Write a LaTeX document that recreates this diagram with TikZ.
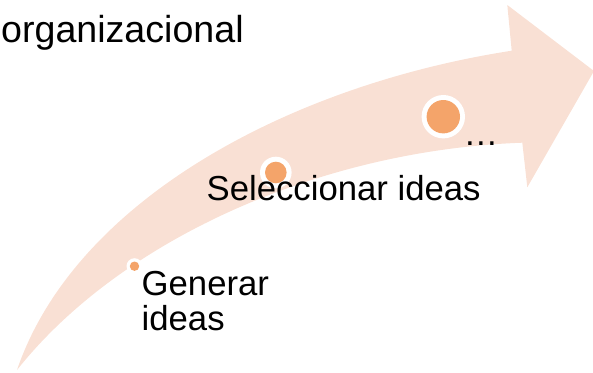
\documentclass[tikz,border=0pt]{standalone}
\usepackage{fontspec}
\setmainfont{Liberation Sans}
\definecolor{arrowfill}{HTML}{F9E0D4}
\definecolor{dotfill}{HTML}{F4A46A}
\begin{document}
\begin{tikzpicture}[x=1pt,y=-1pt,
  dotring/.style={circle,fill=white,inner sep=0pt,minimum size=#1},
  dotcore/.style={circle,fill=dotfill,inner sep=0pt,minimum size=#1},
  lbl/.style={anchor=base west,inner sep=0pt,font=\fontsize{34.7}{35}\selectfont,text=black}]
\useasboundingbox (0,0) rectangle (593,372);
% curved arrow
\fill[arrowfill] (17,370) .. controls (75,200) and (290,85) .. (511.7,50.7)
  -- (507.3,5) -- (594,71) -- (527.3,187.3) -- (522.3,142.7)
  .. controls (320,150) and (120,240) .. (17,370) -- cycle;
% markers
\node[dotring=16pt] (r1) at (134.5,266.2) {};
\node[dotcore=9.4pt] (c1) at (r1) {};
\node[dotring=31.6pt] (r2) at (275.8,172.5) {};
\node[dotcore=21.6pt] (c2) at (r2) {};
\node[dotring=43.4pt] (r3) at (443.3,116.7) {};
\node[dotcore=33.4pt] (c3) at (r3) {};
% texts
\node[lbl,font=\fontsize{37.6}{40}\selectfont] (org) at (1,42) {organizacional};
\node[lbl,align=left] (gen) at (141.5,330) {Generar\\ideas};
\node[lbl] (sel) at (206.5,200) {Seleccionar ideas};
\node[lbl] (dots) at (463.4,145.5) {…};
\end{tikzpicture}
\end{document}
